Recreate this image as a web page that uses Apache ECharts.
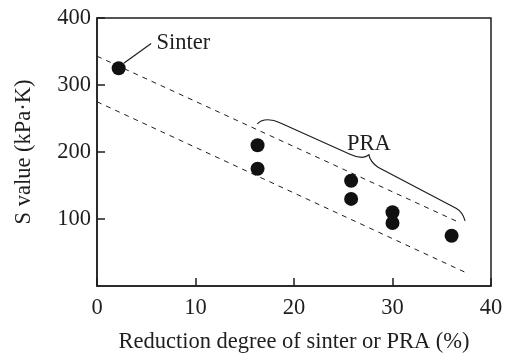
<!DOCTYPE html>
<html>
<head>
<meta charset="utf-8">
<script src="https://cdn.jsdelivr.net/npm/echarts@6/dist/echarts.min.js"></script>
<style>
  html, body { margin: 0; padding: 0; background: #fff; }
  #chart { width: 506px; height: 360px; }
</style>
</head>
<body>
<div id="chart"></div>
<script>
// Measured S values against reduction degree
const reductionDegree = [2.2, 16.3, 16.3, 25.8, 25.8, 30.0, 30.0, 36.0];
const sValue = [325, 210, 175, 157, 130, 110, 94, 75];

// Dashed envelope lines (start and end points)
const upperBandX = [0, 36.9];
const upperBandY = [343, 94];
const lowerBandX = [0, 37.3];
const lowerBandY = [275, 21];

// Leader line for the "Sinter" label
const sinterLeaderX = [2.75, 5.5];
const sinterLeaderY = [333, 362];

// Curly brace grouping the PRA points (path nodes and control points, data units)
const braceX = [16.28, 16.64, 17.35, 17.96, 18.57, 25.68, 26.29, 26.90, 27.30, 27.61, 27.71, 28.53, 36.45, 37.11, 37.37];
const braceY = [242.1, 248.1, 248.1, 248.1, 243.6, 196.6, 192.1, 192.1, 192.1, 195.8, 186.1, 177.2, 116.0, 110.7, 97.3];

// Annotation texts
const noteText = ['Sinter', 'PRA'];
const noteX = [6.05, 27.6];
const noteY = [362, 212];

const FONT = '"Liberation Serif", "DejaVu Serif", serif';
const FONT_SIZE = 22.5;
const INK = '#1e1e1e';

const chart = echarts.init(document.getElementById('chart'), null, { renderer: 'canvas' });

const pairs = (xs, ys) => xs.map((x, i) => [x, ys[i]]);

const option = {
  animation: false,
  backgroundColor: '#fff',
  grid: {
    left: 97, right: 15, top: 18, bottom: 74,
    show: true, borderColor: INK, borderWidth: 1.5, backgroundColor: 'transparent'
  },
  xAxis: {
    type: 'value', min: 0, max: 40, interval: 10,
    name: 'Reduction degree of sinter or PRA (%)',
    nameLocation: 'middle', nameGap: 45,
    nameTextStyle: { fontFamily: FONT, fontSize: FONT_SIZE, color: INK },
    axisLine: { show: true, lineStyle: { color: INK, width: 1.5 } },
    axisTick: { show: true, inside: true, length: 8, lineStyle: { color: INK, width: 1.5 } },
    axisLabel: { fontFamily: FONT, fontSize: FONT_SIZE, color: INK, margin: 11 },
    splitLine: { show: false }
  },
  yAxis: {
    type: 'value', min: 0, max: 400, interval: 100,
    name: 'S value (kPa\u00b7K)',
    nameLocation: 'middle', nameGap: 61,
    nameTextStyle: { fontFamily: FONT, fontSize: FONT_SIZE, color: INK },
    axisLine: { show: true, lineStyle: { color: INK, width: 1.5 } },
    axisTick: { show: true, inside: true, length: 8, lineStyle: { color: INK, width: 1.5 } },
    axisLabel: { fontFamily: FONT, fontSize: FONT_SIZE, color: INK, margin: 6, showMinLabel: false },
    splitLine: { show: false }
  },
  series: [
    {
      type: 'line', data: pairs(upperBandX, upperBandY), symbol: 'none',
      lineStyle: { color: INK, width: 1, type: [5, 5] }, silent: true
    },
    {
      type: 'line', data: pairs(lowerBandX, lowerBandY), symbol: 'none',
      lineStyle: { color: INK, width: 1, type: [5, 5] }, silent: true
    },
    {
      type: 'line', data: pairs(sinterLeaderX, sinterLeaderY), symbol: 'none',
      lineStyle: { color: INK, width: 1.2 }, silent: true
    },
    {
      // Curly brace: curled ends, straight runs and a pointed middle
      type: 'custom', silent: true,
      data: [0],
      renderItem: function (params, api) {
        const p = braceX.map((x, i) => api.coord([x, braceY[i]]));
        const f = (pt) => pt[0].toFixed(2) + ' ' + pt[1].toFixed(2);
        const d = 'M ' + f(p[0]) +
          ' Q ' + f(p[1]) + ' ' + f(p[2]) +
          ' Q ' + f(p[3]) + ' ' + f(p[4]) +
          ' L ' + f(p[5]) +
          ' Q ' + f(p[6]) + ' ' + f(p[7]) +
          ' Q ' + f(p[8]) + ' ' + f(p[9]) +
          ' Q ' + f(p[10]) + ' ' + f(p[11]) +
          ' L ' + f(p[12]) +
          ' Q ' + f(p[13]) + ' ' + f(p[14]);
        return {
          type: 'path',
          shape: { pathData: d },
          style: { fill: 'none', stroke: INK, lineWidth: 1.2 }
        };
      }
    },
    {
      type: 'scatter', data: pairs(reductionDegree, sValue),
      symbol: 'circle', symbolSize: 14,
      itemStyle: { color: '#111', opacity: 1 }, z: 5
    },
    {
      type: 'custom', silent: true,
      data: noteText.map((t, i) => [noteX[i], noteY[i], i]),
      renderItem: function (params, api) {
        const idx = api.value(2);
        const pt = api.coord([api.value(0), api.value(1)]);
        return {
          type: 'text',
          x: pt[0], y: pt[1],
          style: {
            text: noteText[idx], fill: INK,
            font: FONT_SIZE + 'px ' + FONT,
            align: idx === 0 ? 'left' : 'center',
            verticalAlign: 'middle'
          }
        };
      }
    }
  ]
};

chart.setOption(option);
</script>
</body>
</html>
